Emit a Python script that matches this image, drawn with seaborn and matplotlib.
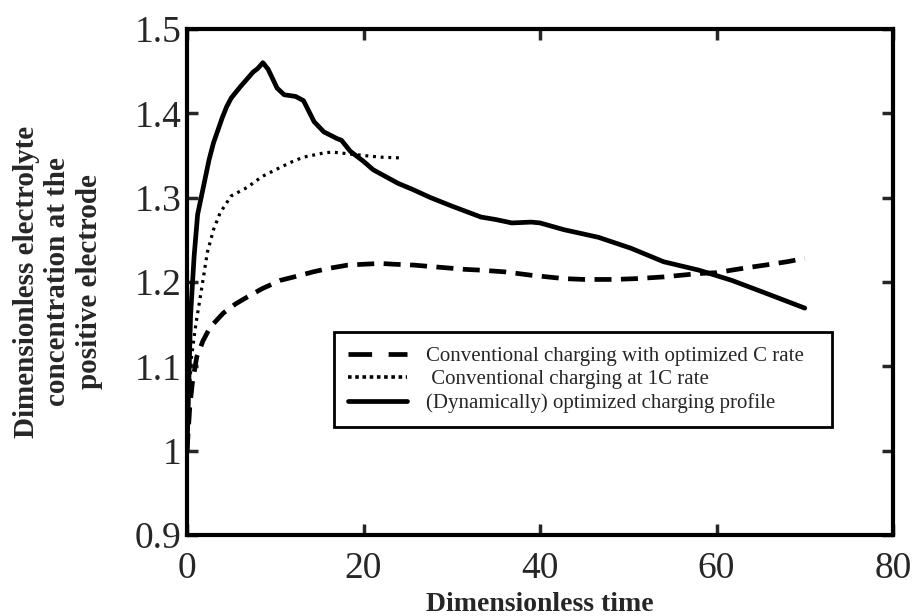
import matplotlib
matplotlib.use("Agg")
import matplotlib.pyplot as plt
import seaborn as sns
import pandas as pd
from matplotlib.lines import Line2D

# ---- data ----
t_dyn = [0, 0.2, 0.4, 0.8, 1.2, 1.8, 2.5, 3.0, 4.0, 4.5, 5.0, 6.0, 7.0, 7.5, 8.0, 8.6,
         9.2, 10.2, 11.0, 12.3, 13.2, 14.4, 15.5, 17.0, 17.5, 18.5, 20.0, 21.1, 22.5,
         23.9, 25.5, 27.6, 30.0, 33.3, 35.0, 36.8, 39.0, 40.0, 42.7, 46.6, 50.3, 54.0,
         58.0, 61.7, 65.5, 70.0]
c_dyn = [1.0, 1.08, 1.16, 1.23, 1.28, 1.31, 1.345, 1.365, 1.395, 1.408, 1.418, 1.431,
         1.443, 1.449, 1.453, 1.46, 1.452, 1.43, 1.422, 1.42, 1.415, 1.39, 1.378, 1.37,
         1.368, 1.355, 1.343, 1.333, 1.325, 1.317, 1.31, 1.30, 1.29, 1.277, 1.274, 1.270,
         1.271, 1.27, 1.262, 1.253, 1.240, 1.224, 1.214, 1.202, 1.187, 1.169]

t_opt = [0, 0.3, 0.6, 1.1, 1.8, 2.6, 4.1, 5.5, 6.8, 8.5, 10.6, 12.5, 14.3, 16.0, 18.2,
         20.0, 21.9, 23.5, 25.7, 28.0, 31.4, 33.3, 36.0, 39.0, 42.7, 45.0, 48.4, 51.0,
         54.0, 58.0, 60.0, 61.7, 63.5, 65.5, 68.0, 70.0]
c_opt = [1.0, 1.05, 1.08, 1.111, 1.13, 1.146, 1.163, 1.174, 1.182, 1.192, 1.202, 1.207,
         1.212, 1.216, 1.220, 1.221, 1.222, 1.221, 1.220, 1.218, 1.215, 1.214, 1.212,
         1.208, 1.204, 1.203, 1.203, 1.204, 1.206, 1.210, 1.211, 1.214, 1.217, 1.220,
         1.224, 1.228]

t_1c = [0, 0.2, 0.5, 1.0, 1.5, 2.3, 3.0, 3.75, 5.0, 6.8, 8.5, 10.6, 12.0, 13.2, 15.5,
        16.5, 18.2, 20.0, 21.9, 24.4]
c_1c = [1.0, 1.06, 1.11, 1.15, 1.182, 1.235, 1.262, 1.282, 1.302, 1.312, 1.325, 1.336,
        1.343, 1.348, 1.353, 1.354, 1.352, 1.35, 1.348, 1.347]

labels = ["Conventional charging with optimized C rate",
          " Conventional charging at 1C rate",
          "(Dynamically) optimized charging profile"]
xticks = [0, 20, 40, 60, 80]
yticks = [0.9, 1.0, 1.1, 1.2, 1.3, 1.4, 1.5]
yticklabels = ["0.9", "1", "1.1", "1.2", "1.3", "1.4", "1.5"]

sns.set_style("white")
plt.rcParams["font.family"] = ["Liberation Serif", "DejaVu Serif"]

fig = plt.figure(figsize=(9.15, 6.16), dpi=100)
ax = fig.add_axes([0.2044, 0.1315, 0.7716, 0.8215])

df_opt = pd.DataFrame({"t": t_opt, "c": c_opt})
df_1c = pd.DataFrame({"t": t_1c, "c": c_1c})
df_dyn = pd.DataFrame({"t": t_dyn, "c": c_dyn})

sns.lineplot(data=df_opt, x="t", y="c", ax=ax, color="black", lw=3.4,
             linestyle=(0, (3.6, 2.0)), sort=False, estimator=None)
sns.lineplot(data=df_1c, x="t", y="c", ax=ax, color="black", lw=2.3,
             linestyle=(0, (0.9, 1.5)), sort=False, estimator=None)
sns.lineplot(data=df_dyn, x="t", y="c", ax=ax, color="black", lw=3.4,
             linestyle="-", sort=False, estimator=None)

ax.set_xlim(0, 80)
ax.set_ylim(0.9, 1.5)
ax.set_xticks(xticks)
ax.set_xticklabels([str(v) for v in xticks])
ax.set_yticks(yticks)
ax.set_yticklabels(yticklabels)
ax.tick_params(axis="both", which="both", direction="in", length=8, width=2.5,
               labelsize=27, top=True, right=True, bottom=True, left=True)
ax.tick_params(axis="x", pad=12)
ax.tick_params(axis="y", pad=4)
for s in ax.spines.values():
    s.set_visible(True)
    s.set_linewidth(3)
    s.set_color("black")

ax.set_xlabel("Dimensionless time", fontsize=20, fontweight="bold", labelpad=4)
ax.set_ylabel("Dimensionless electrolyte\nconcentration at the\npositive electrode",
              fontsize=21, fontweight="bold", labelpad=23, linespacing=1.2)

handles = [
    Line2D([], [], color="black", lw=3.4, linestyle=(0, (5, 3.5))),
    Line2D([], [], color="black", lw=2.6, linestyle=(0, (1, 1))),
    Line2D([], [], color="black", lw=3.4, linestyle="-"),
]
leg = ax.legend(handles, labels, loc="upper left",
                bbox_to_anchor=(0.208, 0.213, 0.706, 0.188), mode="expand",
                fontsize=15, frameon=True, fancybox=False, framealpha=1,
                handlelength=2.85, handletextpad=0.9, labelspacing=0.19,
                borderpad=0.68, borderaxespad=0)
leg.get_frame().set_edgecolor("black")
leg.get_frame().set_linewidth(2)

fig.savefig("out.png", dpi=100)
